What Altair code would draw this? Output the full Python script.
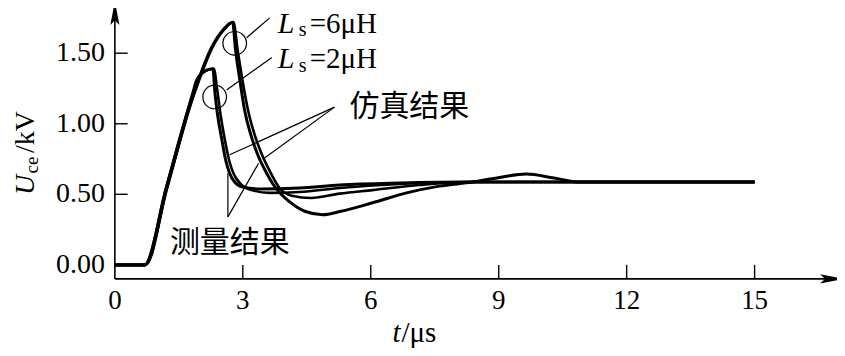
import altair as alt
import pandas as pd

# ---------------- data ----------------
x_ticks = [0, 3, 6, 9, 12, 15]
x_tick_labels = ["0", "3", "6", "9", "12", "15"]
y_ticks = [0.0, 0.5, 1.0, 1.5]
y_tick_labels = ["0.00", "0.50", "1.00", "1.50"]

# Ls = 6 uH, measured
t_6m = [0, 0.70, 1.20, 1.72, 1.97, 2.25, 2.55, 2.76, 2.83, 2.93, 3.04, 3.19, 3.35, 3.54,
        3.77, 4.10, 4.45, 4.87, 5.30, 6.04, 6.84, 7.61, 8.38, 9.02, 9.65, 10.30, 10.89, 12.0, 15.0]
v_6m = [0, 0, 0.54, 1.10, 1.32, 1.53, 1.67, 1.72, 1.52, 1.31, 1.10, 0.92, 0.78, 0.66,
        0.545, 0.446, 0.38, 0.356, 0.38, 0.44, 0.51, 0.558, 0.587, 0.62, 0.644, 0.615, 0.587, 0.587, 0.587]
# Ls = 6 uH, simulated
t_6s = [0, 0.72, 1.22, 1.74, 1.99, 2.27, 2.57, 2.78, 2.88, 2.99, 3.12, 3.28, 3.45, 3.64,
        3.86, 4.15, 4.60, 5.27, 6.04, 7.14, 8.31, 15.0]
v_6s = [0, 0, 0.54, 1.10, 1.32, 1.53, 1.67, 1.72, 1.52, 1.31, 1.10, 0.92, 0.78, 0.66,
        0.545, 0.49, 0.474, 0.505, 0.53, 0.566, 0.587, 0.587]
# Ls = 2 uH, measured
t_2m = [0, 0.70, 1.20, 1.83, 1.92, 2.15, 2.30, 2.34, 2.41, 2.51, 2.60, 2.69, 2.81, 3.00,
        3.40, 4.33, 5.27, 6.67, 8.31, 15.0]
v_2m = [0, 0, 0.54, 1.22, 1.31, 1.38, 1.39, 1.24, 1.06, 0.885, 0.74, 0.65, 0.587, 0.552,
        0.538, 0.545, 0.566, 0.58, 0.587, 0.587]
# Ls = 2 uH, simulated
t_2s = [0, 0.72, 1.22, 1.85, 1.94, 2.17, 2.32, 2.40, 2.48, 2.58, 2.68, 2.78, 2.93, 3.21,
        3.63, 4.33, 5.27, 6.67, 8.31, 15.0]
v_2s = [0, 0, 0.54, 1.22, 1.31, 1.38, 1.39, 1.24, 1.06, 0.885, 0.74, 0.65, 0.58, 0.53,
        0.51, 0.517, 0.545, 0.573, 0.587, 0.587]

series = [("6μH 测量", t_6m, v_6m, 3.0), ("6μH 仿真", t_6s, v_6s, 2.6),
          ("2μH 测量", t_2m, v_2m, 3.0), ("2μH 仿真", t_2s, v_2s, 2.6)]
rows = []
for name, ts, vs, w in series:
    for i, (t, v) in enumerate(zip(ts, vs)):
        rows.append({"series": name, "t": t, "v": v, "order": i, "w": w})
df = pd.DataFrame(rows)

# leader lines (annotation)
lead_t = [3.09, 2.62, 5.15, 5.15, 2.65, 2.65]
lead_v = [1.61, 1.24, 1.118, 1.118, 0.34, 0.34]
lead_t2 = [3.63, 3.68, 2.69, 3.51, 2.65, 3.37]
lead_v2 = [1.75, 1.47, 0.78, 0.757, 0.65, 0.72]
leaders = pd.DataFrame({"t": lead_t, "v": lead_v, "t2": lead_t2, "v2": lead_v2})

circ_t = [2.81, 2.34]
circ_v = [1.57, 1.19]
circles = pd.DataFrame({"t": circ_t, "v": circ_v})

# ---------------- layout ----------------
W, H = 723, 271
X_MIN, X_MAX = 0.0, W / 42.7
Y_MIN, Y_MAX = -14 / 141.3, 257 / 141.3
SERIF = "Liberation Serif"
CJK = "Noto Sans CJK SC"

xs = alt.Scale(domain=[X_MIN, X_MAX], nice=False, zero=False)
ys = alt.Scale(domain=[Y_MIN, Y_MAX], nice=False, zero=False)


def X(f="t"):
    return alt.X(f + ":Q", scale=xs, axis=None)


def Y(f="v"):
    return alt.Y(f + ":Q", scale=ys, axis=None)


curves = alt.Chart(df).mark_line(
    color="black", interpolate="monotone", strokeJoin="round", strokeCap="butt"
).encode(
    x=X(), y=Y(),
    detail="series:N",
    order="order:Q",
    strokeWidth=alt.StrokeWidth("w:Q", scale=None),
)

# axis lines
ax_df = pd.DataFrame({"t": [0.0, 0.0], "v": [Y_MIN, Y_MIN], "t2": [X_MAX - 0.1, 0.0], "v2": [Y_MIN, Y_MAX - 0.03]})
axes = alt.Chart(ax_df).mark_rule(color="black", strokeWidth=1.6).encode(
    x=X(), y=Y(), x2="t2:Q", y2="v2:Q")

# ticks (inside)
xt_df = pd.DataFrame({"t": x_ticks[1:], "v": [Y_MIN] * 5, "v2": [0.0] * 5})
xt = alt.Chart(xt_df).mark_rule(color="black", strokeWidth=1.4).encode(
    x=X(), y=Y(), y2="v2:Q")
yt_df = pd.DataFrame({"v": y_ticks, "t": [0.0] * 4, "t2": [0.3] * 4})
yt = alt.Chart(yt_df).mark_rule(color="black", strokeWidth=1.4).encode(
    y=Y(), x=X(), x2="t2:Q")

# tick labels
xl_df = pd.DataFrame({"t": x_ticks, "v": [Y_MIN] * 6, "label": x_tick_labels})
xl = alt.Chart(xl_df).mark_text(font=SERIF, fontSize=27, color="black", baseline="top", dy=9).encode(
    x=X(), y=Y(), text="label:N")
yl_df = pd.DataFrame({"t": [0.0] * 4, "v": y_ticks, "label": y_tick_labels})
yl = alt.Chart(yl_df).mark_text(font=SERIF, fontSize=28, color="black", align="right",
                                baseline="middle", dx=-10).encode(
    x=X(), y=Y(), text="label:N")

ARROW = "M0,-1L0.32,0.7L0,0.35L-0.32,0.7Z"
arr_df = pd.DataFrame({"t": [0.0, X_MAX - 7 / 42.7], "v": [Y_MAX - 7 / 141.3, Y_MIN], "ang": [0, 90]})
arrows = alt.Chart(arr_df).mark_point(shape=ARROW, filled=True, color="black", size=800,
                                      opacity=1, strokeWidth=0).encode(
    x=X(), y=Y(), angle=alt.Angle("ang:Q", scale=None))

lead = alt.Chart(leaders).mark_rule(color="black", strokeWidth=1.2).encode(
    x=X(), y=Y(), x2="t2:Q", y2="v2:Q")

circ = alt.Chart(circles).mark_point(shape="circle", filled=False, color="black",
                                     size=560, strokeWidth=1.2, opacity=1).encode(
    x=X(), y=Y())


def txt(text, t, v, font=SERIF, size=28, style="normal", align="left", baseline="alphabetic"):
    d = pd.DataFrame({"t": [t], "v": [v], "label": [text]})
    return alt.Chart(d).mark_text(
        font=font, fontSize=size, fontStyle=style, align=align,
        baseline=baseline, color="black"
    ).encode(x=X(), y=Y(), text="label:N")


def ptxt(text, x, y, size=28, style="normal", align="center", angle=0, font=SERIF):
    d = pd.DataFrame({"label": [text]})
    return alt.Chart(d).mark_text(
        font=font, fontSize=size, fontStyle=style, align=align,
        baseline="middle", color="black", angle=angle
    ).encode(x=alt.value(x), y=alt.value(y), text="label:N")


labels = [
    txt("L", 3.82, 1.642, style="italic", size=30),
    txt("s", 4.31, 1.625, size=20),
    txt("=6μH", 4.57, 1.642, size=29),
    txt("L", 3.82, 1.394, style="italic", size=30),
    txt("s", 4.31, 1.365, size=20),
    txt("=2μH", 4.57, 1.394, size=29),
    txt("仿真结果", 5.50, 1.118, font=CJK, size=30, baseline="middle"),
    txt("测量结果", 1.29, 0.156, font=CJK, size=30, baseline="middle"),
    # axis titles
    ptxt("t", 282, 325, size=29, style="italic"),
    ptxt("/μs", 287, 325, size=29, align="left"),
    ptxt("U", -89, 177, size=28, style="italic", angle=270),
    ptxt("ce", -83, 157, size=19, angle=270),
    ptxt("/kV", -89, 124, size=28, angle=270),
]

chart = alt.layer(circ, lead, axes, xt, yt, xl, yl, curves, arrows, *labels).properties(
    width=W, height=H,
    padding={"left": 107, "top": 0, "right": 0, "bottom": 69},
    autosize=alt.AutoSizeParams(type="none"),
    background="white",
).configure_view(stroke=None)

chart.save("out.html", embed_options={"renderer": "svg", "actions": False})
